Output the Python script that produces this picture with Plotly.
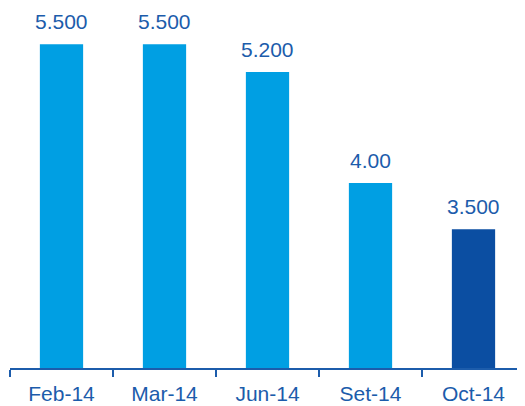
import plotly.graph_objects as go

categories = ["Feb-14", "Mar-14", "Jun-14", "Set-14", "Oct-14"]
values = [5.5, 5.5, 5.2, 4.0, 3.5]
labels = ["5.500", "5.500", "5.200", "4.00", "3.500"]
colors = ["#009FE3", "#009FE3", "#009FE3", "#009FE3", "#0B4EA2"]

FONT = "Liberation Sans, Arial"
TXT = "#1C5CAB"

fig = go.Figure(go.Bar(
    x=categories, y=values,
    marker=dict(color=colors, line=dict(width=0)),
    cliponaxis=False, width=0.42,
))
for c, v, t in zip(categories, values, labels):
    fig.add_annotation(x=c, y=v, text=t, showarrow=False, yanchor="bottom",
                       yshift=9, font=dict(family=FONT, size=21, color=TXT))
fig.update_layout(
    width=525, height=406, margin=dict(l=2, r=8, t=0, b=46),
    paper_bgcolor="white", plot_bgcolor="white", showlegend=False,
    xaxis=dict(showline=True, linecolor=TXT, linewidth=2, ticks="outside",
               tickson="boundaries", ticklen=7, tickwidth=2, tickcolor=TXT,
               ticklabelstandoff=6,
               tickfont=dict(family=FONT, size=21, color=TXT),
               showgrid=False),
    yaxis=dict(range=[2, 5.892], visible=False, showgrid=False),
)
fig.write_html("out.html")
